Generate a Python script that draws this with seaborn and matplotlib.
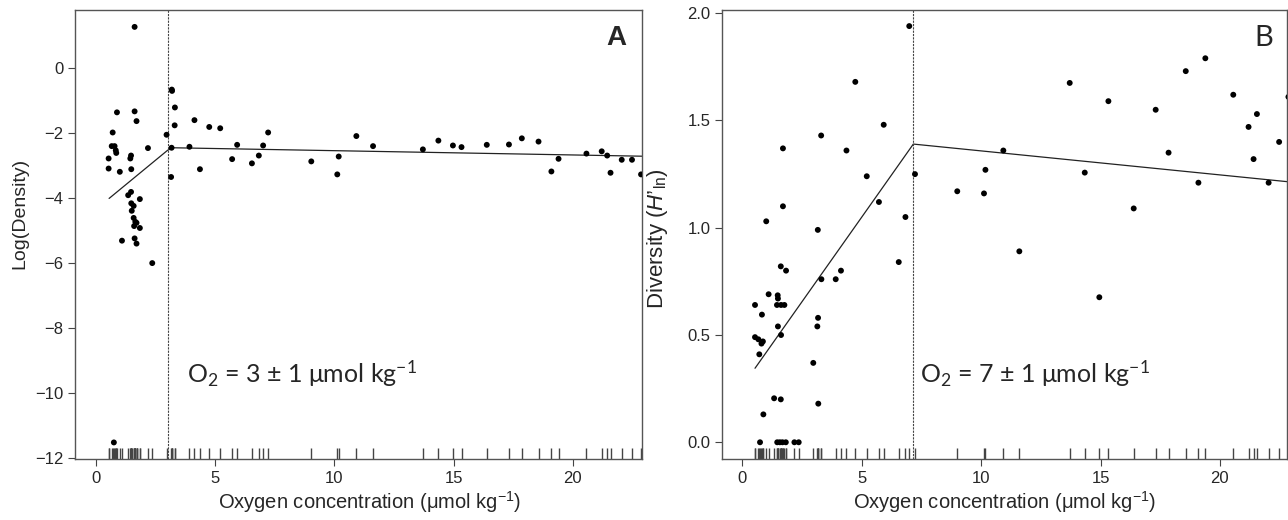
import matplotlib
matplotlib.use("Agg")
import matplotlib.pyplot as plt
import seaborn as sns
import pandas as pd

# Panel A: log density against oxygen
oxy_a = [1.62, 3.18, 3.19, 3.31, 0.88, 1.62, 1.70, 4.13, 3.30, 4.75, 5.21, 0.70,
         2.96, 7.22, 10.92, 0.66, 0.78, 0.83, 0.85, 2.18, 3.17, 3.92, 5.92, 7.01,
         0.53, 1.47, 1.44, 1.48, 0.53, 1.00, 4.36, 5.71, 6.54, 6.83, 9.03, 10.18,
         10.12, 3.15, 1.35, 1.47, 1.84, 1.48, 1.58, 1.50, 1.58, 1.65, 1.70, 1.84,
         1.60, 1.09, 1.62, 1.70, 2.36, 0.75, 11.62, 13.71, 14.36, 14.97, 15.33,
         16.39, 17.32, 17.86, 18.56, 19.10, 19.40, 20.57, 21.21, 21.44, 21.58,
         22.05, 22.48, 22.86]
dens_a = [1.28, -0.65, -0.69, -1.20, -1.35, -1.32, -1.62, -1.59, -1.75, -1.80, -1.84, -1.97,
          -2.04, -1.97, -2.08, -2.39, -2.39, -2.52, -2.60, -2.45, -2.44, -2.41, -2.35, -2.37,
          -2.77, -2.68, -2.77, -3.10, -3.08, -3.18, -3.10, -2.79, -2.92, -2.68, -2.86, -2.71,
          -3.26, -3.34, -3.90, -3.80, -4.02, -4.15, -4.23, -4.38, -4.60, -4.72, -4.75, -4.91,
          -4.85, -5.30, -5.23, -5.39, -5.99, -11.51, -2.39, -2.49, -2.22, -2.37, -2.42,
          -2.35, -2.34, -2.15, -2.25, -3.17, -2.78, -2.62, -2.55, -2.68, -3.21,
          -2.81, -2.81, -3.26]
fit_a_x = [0.55, 3.0, 3.2, 22.9]
fit_a_y = [-4.0, -2.52, -2.44, -2.70]
brk_a = 3.0

# Panel B: diversity against oxygen
oxy_b = [6.99, 4.73, 5.92, 3.30, 1.70, 4.36, 5.21, 7.23, 9.00, 5.72, 1.70, 6.83,
         1.00, 3.16, 6.55, 1.61, 1.83, 4.13, 3.91, 3.31, 1.10, 1.48, 1.49, 0.53,
         1.45, 1.62, 1.76, 0.82, 3.17, 1.49, 3.14, 0.53, 0.67, 0.80, 0.86, 1.62,
         0.71, 2.97, 1.33, 1.61, 3.18, 0.88, 0.74, 1.46, 1.57, 1.68, 1.82, 2.18,
         2.36, 10.18, 10.12, 10.93, 11.60, 13.71, 14.34, 14.95, 15.33, 16.39,
         17.31, 17.85, 18.57, 19.10, 19.39, 20.56, 21.20, 21.55, 21.41, 22.04,
         22.48, 22.87]
div_b = [1.94, 1.68, 1.48, 1.43, 1.37, 1.36, 1.24, 1.25, 1.17, 1.12, 1.10, 1.05,
         1.03, 0.99, 0.84, 0.82, 0.80, 0.80, 0.76, 0.76, 0.69, 0.685, 0.67, 0.64,
         0.64, 0.64, 0.64, 0.595, 0.58, 0.54, 0.54, 0.49, 0.48, 0.46, 0.47, 0.50,
         0.41, 0.37, 0.205, 0.20, 0.18, 0.13, 0.0, 0.0, 0.0, 0.0, 0.0, 0.0,
         0.0, 1.27, 1.16, 1.36, 0.89, 1.675, 1.257, 0.676, 1.59, 1.09,
         1.55, 1.35, 1.73, 1.21, 1.79, 1.62, 1.47, 1.53, 1.32, 1.21,
         1.40, 1.61]
fit_b_x = [0.53, 7.16, 22.8]
fit_b_y = [0.345, 1.39, 1.215]
brk_b = 7.16

sns.set_style("ticks")
plt.rcParams['font.family'] = ['Liberation Sans', 'DejaVu Sans']
plt.rcParams['mathtext.fontset'] = 'custom'
plt.rcParams['mathtext.rm'] = 'Liberation Sans'
plt.rcParams['mathtext.it'] = 'Liberation Sans:italic'

df_a = pd.DataFrame({'oxy': oxy_a, 'val': dens_a})
df_b = pd.DataFrame({'oxy': oxy_b, 'val': div_b})

fig = plt.figure(figsize=(12.88, 5.2), dpi=100)
ax_a = fig.add_axes([75 / 1288, 61 / 520, 567 / 1288, 449 / 520])
ax_b = fig.add_axes([722.3 / 1288, 61 / 520, 564.7 / 1288, 449 / 520])

xlab = r'Oxygen concentration (μmol kg$\mathregular{^{-1}}$)'


def draw_panel(ax, df, fx, fy, brk, xlim, ylim):
    sns.scatterplot(data=df, x='oxy', y='val', ax=ax, color='black', s=18,
                    edgecolor='none', zorder=3)
    sns.rugplot(data=df, x='oxy', ax=ax, height=0.025, color='#444444',
                lw=0.8, zorder=2)
    sns.lineplot(x=fx, y=fy, ax=ax, color='#222222', lw=0.9, sort=False,
                 estimator=None)
    ax.axvline(brk, color='#444444', lw=0.8, ls=(0, (2, 1)))
    ax.set_xlim(*xlim)
    ax.set_ylim(*ylim)
    ax.set_xticks([0, 5, 10, 15, 20])
    for sp in ax.spines.values():
        sp.set_visible(True)
        sp.set_color('#555555')
        sp.set_linewidth(1.0)
    ax.tick_params(axis='both', labelsize=12, length=5, width=0.8,
                   color='#444444', direction='out')


draw_panel(ax_a, df_a, fit_a_x, fit_a_y, brk_a, (-0.88, 22.9), (-12.02, 1.8))
ax_a.set_yticks([0, -2, -4, -6, -8, -10, -12])
ax_a.set_xlabel(xlab, fontsize=14.5)
ax_a.set_ylabel('Log(Density)', fontsize=14)
ax_a.yaxis.set_label_coords(-0.082, 0.548)
ax_a.xaxis.set_label_coords(0.52, -0.066)
ax_a.text(0.972, 0.967, 'A', transform=ax_a.transAxes, ha='right', va='top',
          fontsize=20, fontweight='bold')
ax_a.text(0.1975, 0.19, r'O$\mathregular{_2}$ = 3 ± 1 μmol kg$\mathregular{^{-1}}$',
          transform=ax_a.transAxes, ha='left', va='center', fontsize=18,
          family=['Lato', 'DejaVu Sans'])

draw_panel(ax_b, df_b, fit_b_x, fit_b_y, brk_b, (-0.84, 22.81), (-0.078, 2.015))
ax_b.set_yticks([0.0, 0.5, 1.0, 1.5, 2.0])
ax_b.set_xlabel(xlab, fontsize=14.5)
ax_b.set_ylabel("Diversity ($\\mathit{H}$’$\\mathregular{_{ln}}$)", fontsize=16)
ax_b.yaxis.set_label_coords(-0.092, 0.49)
ax_b.xaxis.set_label_coords(0.5, -0.066)
ax_b.text(0.975, 0.967, 'B', transform=ax_b.transAxes, ha='right', va='top',
          fontsize=21, family=['Lato', 'DejaVu Sans'])
ax_b.text(0.35, 0.19, r'O$\mathregular{_2}$ = 7 ± 1 μmol kg$\mathregular{^{-1}}$',
          transform=ax_b.transAxes, ha='left', va='center', fontsize=18,
          family=['Lato', 'DejaVu Sans'])

fig.savefig('out.png', dpi=100)
